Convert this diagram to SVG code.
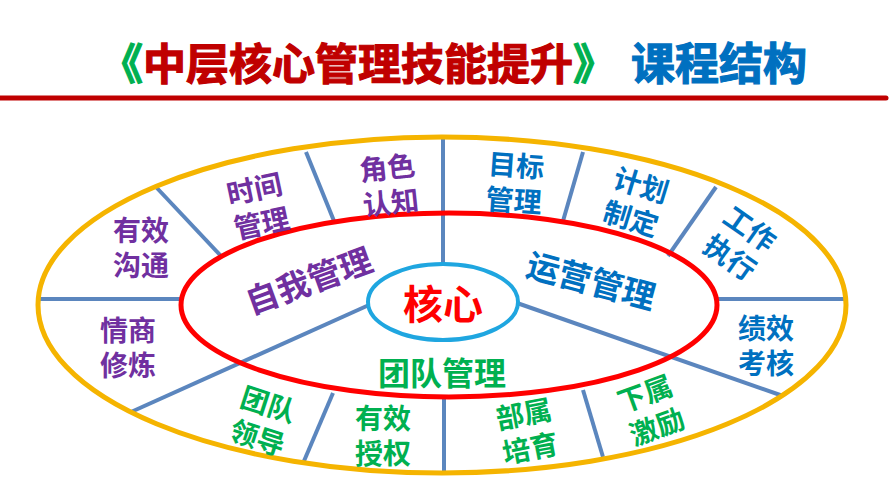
<svg xmlns="http://www.w3.org/2000/svg" width="889" height="500" viewBox="0 0 889 500">
<style>
text{font-family:"Noto Sans CJK SC","Noto Sans",sans-serif;font-weight:bold;text-anchor:middle}
.t{font-size:43px;text-anchor:start;stroke-width:1.2px}
.lbl{font-size:28px}
.big{font-size:33px}
.pu{fill:#7030A0}
.bl{fill:#0070C0}
.gr{fill:#00B050}
.rd{fill:#FF0000}
.div{stroke:#5B86BE;stroke-width:4;fill:none}
</style>
<rect width="889" height="500" fill="#FFFFFF"/>
<g id="title">
<text class="t" x="100" y="80"><tspan fill="#00B050" stroke="#00B050">《</tspan><tspan fill="#C00000" stroke="#C00000">中层核心管理技能提升</tspan><tspan fill="#00B050" stroke="#00B050">》</tspan></text>
<text class="t" x="631" y="80" fill="#0070C0" stroke="#0070C0" style="font-size:44px">课程结构</text>
<line x1="0" y1="98" x2="886" y2="98" stroke="#C00000" stroke-width="5" stroke-linecap="round"/>
</g>
<g id="connectors">
<line class="div" x1="443" y1="139" x2="443" y2="266"/>
<line class="div" x1="444" y1="396" x2="444" y2="472"/>
<line class="div" x1="306" y1="152" x2="334" y2="221"/>
<line class="div" x1="156" y1="187" x2="222" y2="257"/>
<line class="div" x1="40" y1="299" x2="182" y2="299"/>
<line class="div" x1="369" y1="305" x2="131" y2="412"/>
<line class="div" x1="333" y1="393" x2="304" y2="461"/>
<line class="div" x1="583" y1="152" x2="563" y2="221"/>
<line class="div" x1="716" y1="187" x2="668" y2="256"/>
<line class="div" x1="717" y1="299" x2="844" y2="299"/>
<line class="div" x1="517" y1="303" x2="783" y2="396"/>
<line class="div" x1="583" y1="390" x2="603" y2="457"/>
</g>
<g id="outer-ring"><ellipse cx="442" cy="305" rx="404" ry="168" fill="none" stroke="#F5B400" stroke-width="5"/></g>
<g id="middle-ring"><ellipse cx="449" cy="305" rx="268" ry="92" fill="none" stroke="#FF0000" stroke-width="5"/></g>
<g id="core">
<ellipse cx="443" cy="302" rx="75" ry="38" fill="#FFFFFF" stroke="#1FA6E0" stroke-width="4"/>
<text class="rd" x="443" y="319" style="font-size:40px">核心</text>
</g>
<g id="self-mgmt" transform="translate(309,281) rotate(-20)"><text class="big pu" x="0" y="12">自我管理</text></g>
<g id="ops-mgmt" transform="translate(591,281) rotate(15)"><text class="big bl" x="0" y="12">运营管理</text></g>
<g id="team-mgmt"><text class="gr" x="442" y="385" style="font-size:32px">团队管理</text></g>
<g id="n-communication" transform="translate(141,248)"><text class="lbl pu" y="-7">有效</text><text class="lbl pu" y="28">沟通</text></g>
<g id="n-time" transform="translate(258,206) rotate(-12)"><text class="lbl pu" y="-7">时间</text><text class="lbl pu" y="28">管理</text></g>
<g id="n-role" transform="translate(389,185) rotate(-6)"><text class="lbl pu" y="-7">角色</text><text class="lbl pu" y="28">认知</text></g>
<g id="n-eq" transform="translate(128,348)"><text class="lbl pu" y="-7">情商</text><text class="lbl pu" y="28">修炼</text></g>
<g id="n-lead" transform="translate(263,421) rotate(18)"><text class="lbl gr" y="-7">团队</text><text class="lbl gr" y="28">领导</text></g>
<g id="n-authorize" transform="translate(383,436)"><text class="lbl gr" y="-7">有效</text><text class="lbl gr" y="28">授权</text></g>
<g id="n-goal" transform="translate(515,183) rotate(4)"><text class="lbl bl" y="-7">目标</text><text class="lbl bl" y="28">管理</text></g>
<g id="n-plan" transform="translate(636,202) rotate(17)"><text class="lbl bl" y="-7">计划</text><text class="lbl bl" y="28">制定</text></g>
<g id="n-exec" transform="translate(740,243) rotate(35)"><text class="lbl bl" y="-7">工作</text><text class="lbl bl" y="28">执行</text></g>
<g id="n-perf" transform="translate(766,346)"><text class="lbl bl" y="-7">绩效</text><text class="lbl bl" y="28">考核</text></g>
<g id="n-develop" transform="translate(527,431) rotate(-11)"><text class="lbl gr" y="-7">部属</text><text class="lbl gr" y="28">培育</text></g>
<g id="n-motivate" transform="translate(651,410) rotate(-20)"><text class="lbl gr" y="-7">下属</text><text class="lbl gr" y="28">激励</text></g>
</svg>
